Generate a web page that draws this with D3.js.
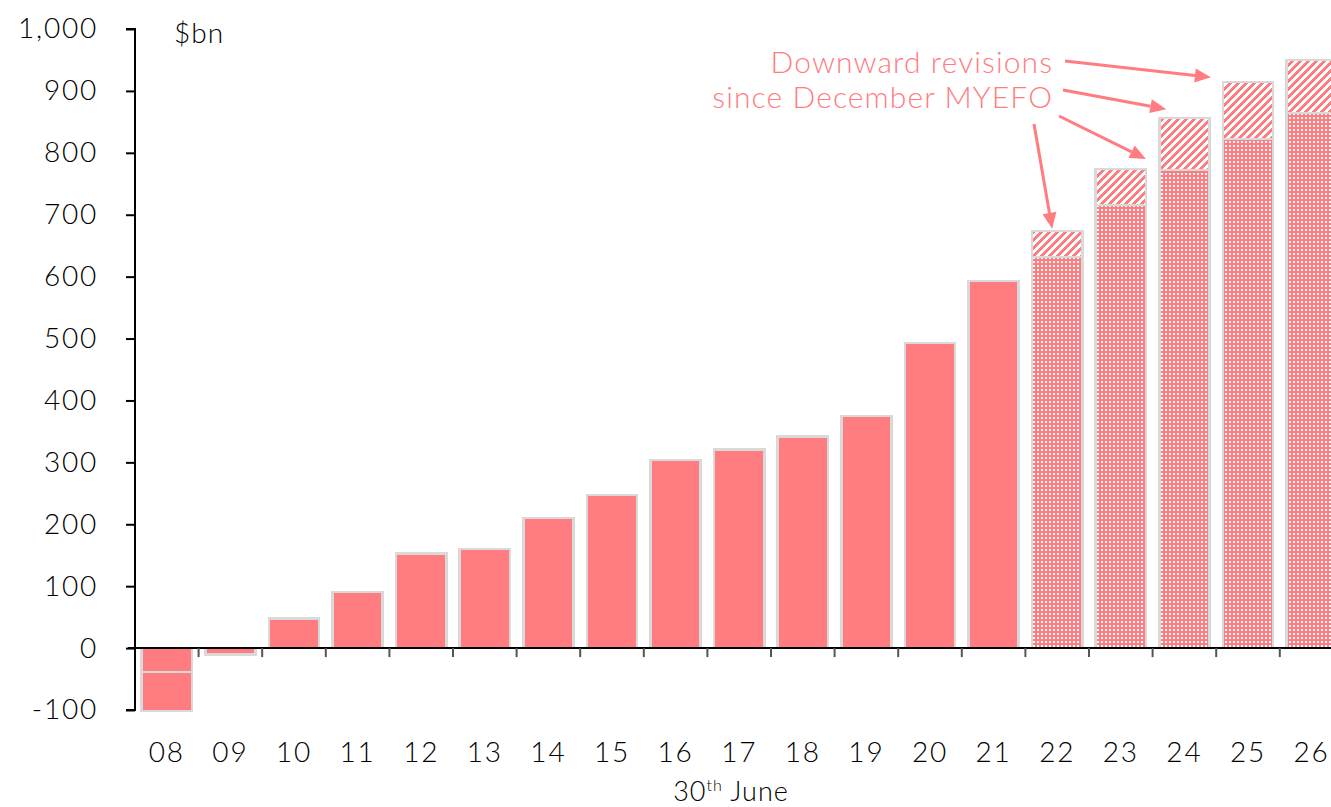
<!DOCTYPE html>
<html>
<head>
<meta charset="utf-8">
<script src="https://cdn.jsdelivr.net/npm/d3@7"></script>
<style>
  body { margin: 0; background: #fff; }
  svg { display: block; font-family: Lato, "DejaVu Sans", sans-serif; font-weight: 300; }
</style>
</head>
<body>
<svg id="chart" width="1331" height="807"></svg>
<script>
// categories (year ending 30 June)
var years = ['08', '09', '10', '11', '12', '13', '14', '15', '16', '17', '18', '19', '20', '21', '22', '23', '24', '25', '26'];
// actual net debt, $bn
var actual = [-39, -10, 48, 91, 153, 160, 210, 247, 304, 321, 342, 375, 493, 593, null, null, null, null, null];
// second segment drawn below 08
var actualExtra = [-63, null, null, null, null, null, null, null, null, null, null, null, null, null, null, null, null, null, null];
// budget projections
var forecast = [null, null, null, null, null, null, null, null, null, null, null, null, null, null, 632, 716, 772, 822, 864];
// downward revisions since December MYEFO
var revision = [null, null, null, null, null, null, null, null, null, null, null, null, null, null, 42, 58, 84, 92, 86];
var yTicks = [-100, 0, 100, 200, 300, 400, 500, 600, 700, 800, 900, 1000];

var pink = '#ff7c80';
var edge = '#d9d9d9';

var svg = d3.select('#chart');
var defs = svg.append('defs');

// dotted pattern for projections
var dots = defs.append('pattern').attr('id', 'dots')
    .attr('patternUnits', 'userSpaceOnUse').attr('width', 4).attr('height', 4);
dots.append('rect').attr('width', 4).attr('height', 4).attr('fill', pink);
dots.append('rect').attr('x', 1).attr('y', 1).attr('width', 2).attr('height', 2).attr('fill', '#fff');

// wide upward diagonal pattern for revisions
var diag = defs.append('pattern').attr('id', 'diag')
    .attr('patternUnits', 'userSpaceOnUse').attr('width', 8).attr('height', 8);
diag.append('rect').attr('width', 8).attr('height', 8).attr('fill', '#fff');
d3.range(8).forEach(function(r) {
    d3.range(4).forEach(function(k) {
        diag.append('rect')
            .attr('x', (7 - r + k) % 8).attr('y', r)
            .attr('width', 1).attr('height', 1)
            .attr('fill', pink);
    });
});

var x = d3.scaleBand().domain(years)
    .range([135, 135 + 19 * 63.6])
    .paddingInner(0.21).paddingOuter(0.105);
var y = d3.scaleLinear().domain([-100, 1000]).range([710, 29]);
var step = x.step();

// y axis
var yAxis = svg.append('g').attr('transform', 'translate(135,0)')
    .call(d3.axisLeft(y).tickValues(yTicks).tickSize(9).tickPadding(28)
        .tickFormat(function(d) { return d3.format(',')(d).replace('\u2212', '-'); }));
yAxis.select('.domain').attr('d', 'M-9,' + y(-100) + 'H0V' + y(1000) + 'H-9')
    .attr('stroke', '#000').attr('stroke-width', 2);
yAxis.selectAll('.tick line').attr('stroke', '#000').attr('stroke-width', 2);
yAxis.selectAll('.tick text').attr('font-size', 28).attr('letter-spacing', 1.8).attr('fill', '#000')
    .attr('font-family', 'Lato, sans-serif');

// bars
function segs(vals, base, fill) {
    svg.append('g').selectAll('rect')
        .data(years.map(function(c, i) { return { c: c, v: vals[i], b: base ? base[i] : 0 }; })
            .filter(function(d) { return d.v !== null; }))
        .enter().append('rect')
        .attr('x', function(d) { return x(d.c); })
        .attr('width', x.bandwidth())
        .attr('y', function(d) { return y(Math.max(d.b, d.b + d.v)); })
        .attr('height', function(d) { return Math.abs(y(d.b) - y(d.b + d.v)); })
        .attr('fill', fill)
        .attr('stroke', edge)
        .attr('stroke-width', 2.5)
        .attr('shape-rendering', 'crispEdges');
}
segs(actual, null, pink);
segs(actualExtra, actual, pink);
segs(forecast, null, 'url(#dots)');
segs(revision, forecast, 'url(#diag)');

// x axis
var xg = svg.append('g');
xg.append('line').attr('x1', 128).attr('x2', 1331).attr('y1', y(0)).attr('y2', y(0))
    .attr('stroke', '#000').attr('stroke-width', 2);
xg.selectAll('.xt').data(years.slice(1)).enter().append('line')
    .attr('x1', function(d) { return x(d) - step * 0.105; })
    .attr('x2', function(d) { return x(d) - step * 0.105; })
    .attr('y1', y(0)).attr('y2', y(0) + 9)
    .attr('stroke', '#555').attr('stroke-width', 2);
xg.selectAll('.xl').data(years).enter().append('text')
    .attr('x', function(d) { return x(d) + x.bandwidth() / 2; })
    .attr('y', 762)
    .attr('text-anchor', 'middle')
    .attr('font-size', 28)
    .attr('letter-spacing', 1.8)
    .text(function(d) { return d; });

var xt = svg.append('text').attr('x', 731).attr('y', 801)
    .attr('text-anchor', 'middle').attr('font-size', 27).attr('letter-spacing', 1);
xt.append('tspan').text('30');
xt.append('tspan').attr('font-size', 16).attr('dy', -10).text('th');
xt.append('tspan').attr('dy', 10).text(' June');

svg.append('text').attr('x', 174).attr('y', 43).attr('font-size', 28).attr('letter-spacing', 1).text('$bn');

// annotation
var ann = svg.append('g').attr('fill', pink).attr('font-size', 30).attr('letter-spacing', 1.1).attr('text-anchor', 'end');
ann.append('text').attr('x', 1053).attr('y', 73).text('Downward revisions');
ann.append('text').attr('x', 1053).attr('y', 108).text('since December MYEFO');

function barTop(i) { return y(forecast[i] + revision[i]); }
var arrows = [
    { x1: 1065, y1: 61, x2: x('25') - 12, y2: barTop(17) - 5 },
    { x1: 1063, y1: 90, x2: x('24') + 7, y2: barTop(16) - 9 },
    { x1: 1059, y1: 116, x2: x('23') + x.bandwidth(), y2: barTop(15) - 10 },
    { x1: 1034, y1: 124, x2: x('22') + x.bandwidth() / 2 - 5, y2: barTop(14) - 2 }
];
arrows.forEach(function(a) {
    var ang = Math.atan2(a.y2 - a.y1, a.x2 - a.x1);
    var L = 16, W = 7;
    var bx = a.x2 - L * Math.cos(ang), by = a.y2 - L * Math.sin(ang);
    svg.append('line').attr('x1', a.x1).attr('y1', a.y1).attr('x2', bx).attr('y2', by)
        .attr('stroke', pink).attr('stroke-width', 3);
    svg.append('path')
        .attr('d', 'M' + a.x2 + ',' + a.y2 +
            'L' + (bx + W * Math.sin(ang)) + ',' + (by - W * Math.cos(ang)) +
            'L' + (bx - W * Math.sin(ang)) + ',' + (by + W * Math.cos(ang)) + 'Z')
        .attr('fill', pink);
});
</script>
</body>
</html>
